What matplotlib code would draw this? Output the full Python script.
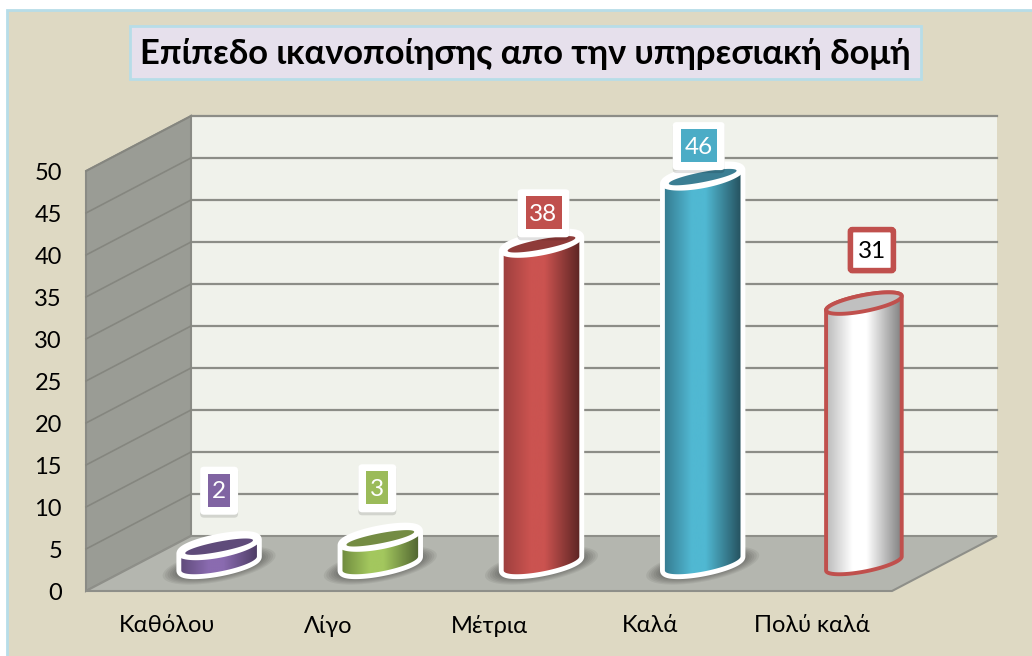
import numpy as np
import matplotlib
matplotlib.use("Agg")
import matplotlib.pyplot as plt
from matplotlib.colors import LinearSegmentedColormap
from matplotlib.patches import FancyBboxPatch, Polygon, Rectangle

plt.rcParams['font.family'] = ['Lato', 'Open Sans', 'DejaVu Sans']

title = "Επίπεδο ικανοποίησης απο την υπηρεσιακή δομή"
categories = ["Καθόλου", "Λίγο", "Μέτρια", "Καλά", "Πολύ καλά"]
values = [2, 3, 38, 46, 31]
y_ticks = [0, 5, 10, 15, 20, 25, 30, 35, 40, 45, 50]

# left, bright, right of the cylinder, then top face, outline
bar_colors = [
    ("#5f4b7a", "#8a6bb0", "#4a3a60", "#5f4b7a", "white"),
    ("#6f8a3e", "#a3c75e", "#4f6330", "#748c43", "white"),
    ("#9c3f3d", "#cb5350", "#5a2423", "#8f3b39", "white"),
    ("#35798e", "#50b8d2", "#25505d", "#3b7e93", "white"),
    ("#b5b5b5", "#ffffff", "#7d7d7d", "#c0c0c0", "#c0504d"),
]
label_fill = ["#8064a2", "#9bbb59", "#c0504d", "#4bacc6", "white"]
label_text = ["white", "white", "white", "white", "black"]
# label centre relative to the top of the bar, in pixels
label_dx = [0, -3, 2, -4, 8]
label_dy = [-56, -50, -31, -31, -53]
# last bar has no shadow
shadow_grow = [19, 19, 19, 19, 0]

# layout of the fake 3d box, everything in image pixels
x_left, x_right = 86, 892
y_floor, y_top = 591, 171
depth_x, depth_y = 105, -55
unit = (y_floor - y_top) / 50
tilt = np.radians(11)
semi_a, semi_b = 38.5, 8


def ellipse(cx, cy, a=semi_a, b=semi_b, start=0, stop=2 * np.pi):
    t = np.linspace(start, stop, 80)
    x = cx + a * np.cos(t) * np.cos(tilt) - b * np.sin(t) * np.sin(tilt)
    y = cy - a * np.cos(t) * np.sin(tilt) - b * np.sin(t) * np.cos(tilt)
    return np.column_stack([x, y])


fig = plt.figure(figsize=(10.32, 6.56), dpi=100, facecolor="white")
ax = fig.add_axes([0, 0, 1, 1])
ax.set_xlim(0, 1032)
ax.set_ylim(656, 0)
ax.axis("off")

ax.add_patch(Rectangle((7, 10), 1040, 660, fc="#ded9c3", ec="#b7dde8", lw=2))

# title box
ax.add_patch(Rectangle((130, 26), 791, 53, fc="#e6e0ec", ec="#b7dde8", lw=2))
ax.text(525, 54, title, fontsize=24.8, fontweight="bold", ha="center", va="center", color="black")

# walls and floor
bx, by = x_left + depth_x, y_floor + depth_y
ax.add_patch(Rectangle((bx, y_top + depth_y), x_right - x_left, y_floor - y_top, fc="#f0f2eb", ec="none"))
ax.add_patch(Polygon([(x_left, y_top), (bx, y_top + depth_y), (bx, by), (x_left, y_floor)],
                     fc="#9a9c95", ec="#8a8b85", lw=1.5))
ax.add_patch(Polygon([(x_left, y_floor), (bx, by), (x_right + depth_x, by), (x_right, y_floor)],
                     fc="#b4b6af", ec="#8e8f89", lw=1.5))

for v in y_ticks:
    y = y_floor - v * unit
    if v > 0:
        ax.plot([bx, x_right + depth_x], [y + depth_y, y + depth_y], color="#8c8d87", lw=1.6)
        ax.plot([x_left, bx], [y, y + depth_y], color="#85867f", lw=1.2)
    ax.text(62, y + 3, str(v), fontsize=17, ha="right", va="center", color="black")

# bars
step = (x_right - x_left) / len(categories)
base_y = y_floor + depth_y / 2
for i, (cat, val) in enumerate(zip(categories, values)):
    col_l, col_m, col_r, col_top, col_edge = bar_colors[i]
    cx = x_left + step * (i + 0.5) + depth_x / 2
    top_y = base_y - val * unit
    is_white = col_edge == "white"

    # soft shadow on the floor
    if shadow_grow[i] > 0:
        for k in range(8):
            pts = ellipse(cx, base_y + 2, semi_a + shadow_grow[i] - k * 2.5, semi_b + 8 - k)
            ax.add_patch(Polygon(pts, fc="black", ec="none", alpha=0.06))

    t0 = np.arctan2(-semi_b * np.sin(tilt), semi_a * np.cos(tilt))
    outline = np.vstack([ellipse(cx, top_y, start=t0, stop=t0 + np.pi),
                         ellipse(cx, base_y, start=t0 + np.pi, stop=t0 + 2 * np.pi)])
    if is_white:
        ax.add_patch(Polygon(outline, fc="none", ec="white", lw=7, joinstyle="round", zorder=3))

    cmap = LinearSegmentedColormap.from_list(
        "cyl", [(0, col_l), (0.36, col_m), (0.54, col_m), (1, col_r)])
    body = Polygon(outline, fc="none", ec="none")
    ax.add_patch(body)
    grad = np.linspace(0, 1, 200).reshape(1, -1)
    im = ax.imshow(grad, cmap=cmap, aspect="auto", zorder=3.5,
                   extent=[cx - semi_a - 1, cx + semi_a + 1, base_y + 20, top_y - 20])
    im.set_clip_path(body)

    if is_white:
        ax.add_patch(Polygon(ellipse(cx, top_y, semi_a + 4, semi_b + 3), fc="white", ec="none", zorder=4))
        ax.add_patch(Polygon(ellipse(cx, top_y, semi_a - 4, semi_b - 3), fc=col_top, ec="none", zorder=4.1))
    else:
        ax.add_patch(Polygon(outline, fc="none", ec=col_edge, lw=2.8, zorder=4))
        ax.add_patch(Polygon(ellipse(cx, top_y), fc=col_top, ec=col_edge, lw=2.8, zorder=4.1))

    # value label
    lx = cx + label_dx[i]
    ly = top_y + label_dy[i]
    half = 18 if val >= 10 else 11
    if is_white:
        ax.add_patch(FancyBboxPatch((lx - half - 6, ly - 21), half * 2 + 12, 46, boxstyle="round,pad=2,rounding_size=4",
                                    fc="black", ec="none", alpha=0.12, zorder=5))
        ax.add_patch(FancyBboxPatch((lx - half - 6, ly - 22), half * 2 + 12, 44, boxstyle="round,pad=2,rounding_size=4",
                                    fc="white", ec="none", zorder=5.1))
        ax.add_patch(Rectangle((lx - half, ly - 17), half * 2, 33, fc=label_fill[i], ec="none", zorder=5.2))
    else:
        ax.add_patch(FancyBboxPatch((lx - 21.5, ly - 20.5), 43, 41, boxstyle="round,pad=0,rounding_size=2",
                                    fc=label_fill[i], ec=col_edge, lw=4, zorder=5.2))
    ax.text(lx, ly + 1, str(val), fontsize=17.5, ha="center", va="center", color=label_text[i], zorder=6)

    ax.text(x_left + step * (i + 0.5), 626, cat, fontsize=17, ha="center", va="center", color="black")

ax.set_xlim(0, 1032)
ax.set_ylim(656, 0)
fig.savefig("out.png", dpi=100)
plt.close(fig)
